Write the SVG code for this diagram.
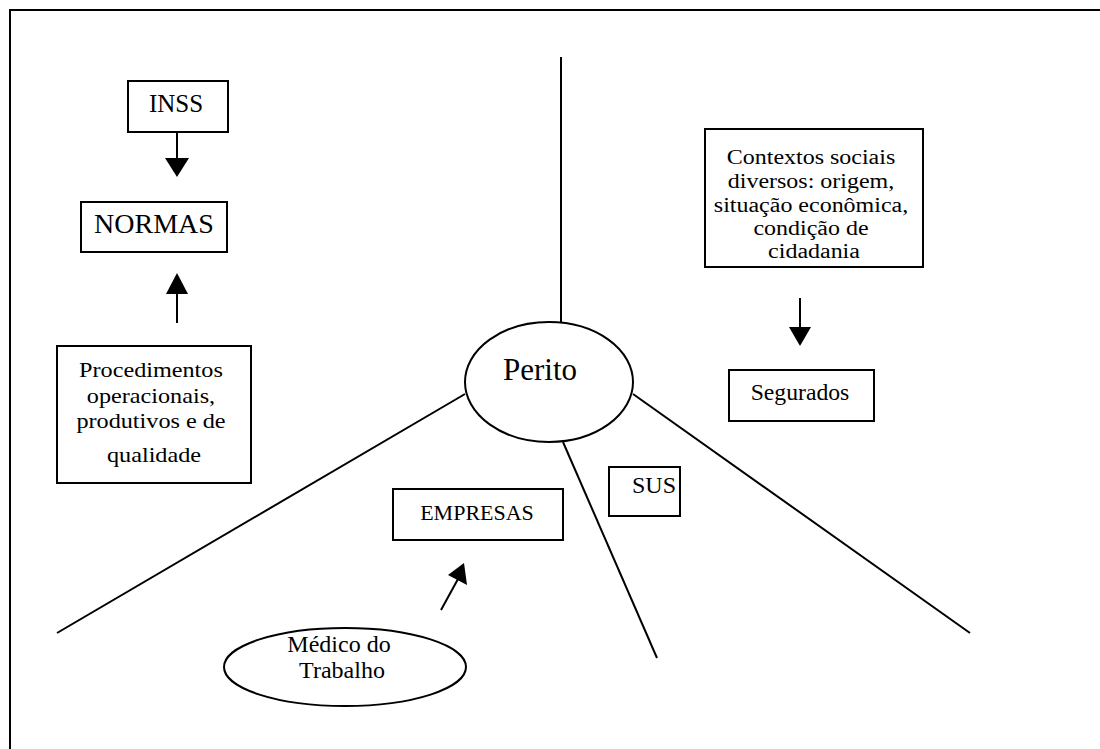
<svg xmlns="http://www.w3.org/2000/svg" width="1100" height="749" viewBox="0 0 1100 749">
  <style>
    .box { fill: #fff; stroke: #000; stroke-width: 2; }
    .oval { fill: #fff; stroke: #000; stroke-width: 2; }
    .lbl { font-family: "Liberation Serif", "Times New Roman", serif; fill: #000; text-anchor: middle; }
    .line { stroke: #000; stroke-width: 2; fill: none; }
    .head { fill: #000; stroke: none; }
  </style>
  <rect width="1100" height="749" fill="#fff"/>

  <!-- outer frame (left and top edges) -->
  <path class="line" d="M 10 749 V 10 H 1100"/>

  <g id="connectors">
    <!-- spokes around Perito -->
    <line class="line" x1="561" y1="57" x2="561" y2="322"/>
    <line class="line" x1="465" y1="394" x2="57" y2="633"/>
    <line class="line" x1="563" y1="442" x2="657" y2="658"/>
    <line class="line" x1="633" y1="394" x2="970" y2="633"/>
    <!-- INSS -> NORMAS -->
    <line class="line" x1="177" y1="132" x2="177" y2="159"/>
    <polygon class="head" points="165,158 189,158 177,177"/>
    <!-- Procedimentos -> NORMAS -->
    <line class="line" x1="177" y1="323" x2="177" y2="292"/>
    <polygon class="head" points="166,294 188,294 177,273"/>
    <!-- Contextos -> Segurados -->
    <line class="line" x1="800" y1="298" x2="800" y2="328"/>
    <polygon class="head" points="789,327 811,327 800,346"/>
    <!-- Médico do Trabalho -> EMPRESAS -->
    <line class="line" x1="441" y1="610" x2="458" y2="579"/>
    <polygon class="head" points="464,563 448,575 467,585"/>
  </g>

  <g id="inss">
    <rect class="box" x="128" y="81" width="100" height="51"/>
    <text class="lbl" x="176" y="112" font-size="25">INSS</text>
  </g>

  <g id="normas">
    <rect class="box" x="81" y="202" width="146" height="50"/>
    <text class="lbl" x="154" y="233" font-size="28">NORMAS</text>
  </g>

  <g id="procedimentos">
    <rect class="box" x="57" y="346" width="194" height="137"/>
    <text class="lbl" font-size="22" transform="translate(154 0) scale(1.1 1)">
      <tspan x="0" y="377">Procedimentos</tspan>
      <tspan x="0" y="403">operacionais,</tspan>
      <tspan x="0" y="428">produtivos e de</tspan>
      <tspan x="0" y="462">qualidade</tspan>
    </text>
  </g>

  <g id="perito">
    <ellipse class="oval" cx="549" cy="382" rx="84" ry="60"/>
    <text class="lbl" x="540" y="380" font-size="31">Perito</text>
  </g>

  <g id="contextos">
    <rect class="box" x="705" y="129" width="218" height="138"/>
    <text class="lbl" font-size="20.5" transform="translate(814 0) scale(1.17 1)">
      <tspan x="0" y="164">Contextos sociais</tspan>
      <tspan x="0" y="188">diversos: origem,</tspan>
      <tspan x="0" y="212">situação econômica,</tspan>
      <tspan x="0" y="235">condição de</tspan>
      <tspan x="0" y="258">cidadania</tspan>
    </text>
  </g>

  <g id="segurados">
    <rect class="box" x="729" y="370" width="145" height="51"/>
    <text class="lbl" x="800" y="400" font-size="23.7">Segurados</text>
  </g>

  <g id="empresas">
    <rect class="box" x="393" y="489" width="170" height="51"/>
    <text class="lbl" x="477" y="520" font-size="22">EMPRESAS</text>
  </g>

  <g id="sus">
    <rect class="box" x="609" y="467" width="71" height="49"/>
    <text class="lbl" x="654" y="493" font-size="24">SUS</text>
  </g>

  <g id="medico">
    <ellipse class="oval" cx="345" cy="667" rx="121" ry="39"/>
    <text class="lbl" font-size="24">
      <tspan x="342" y="652">Médico do</tspan>
      <tspan x="342" y="678">Trabalho</tspan>
    </text>
  </g>
</svg>
